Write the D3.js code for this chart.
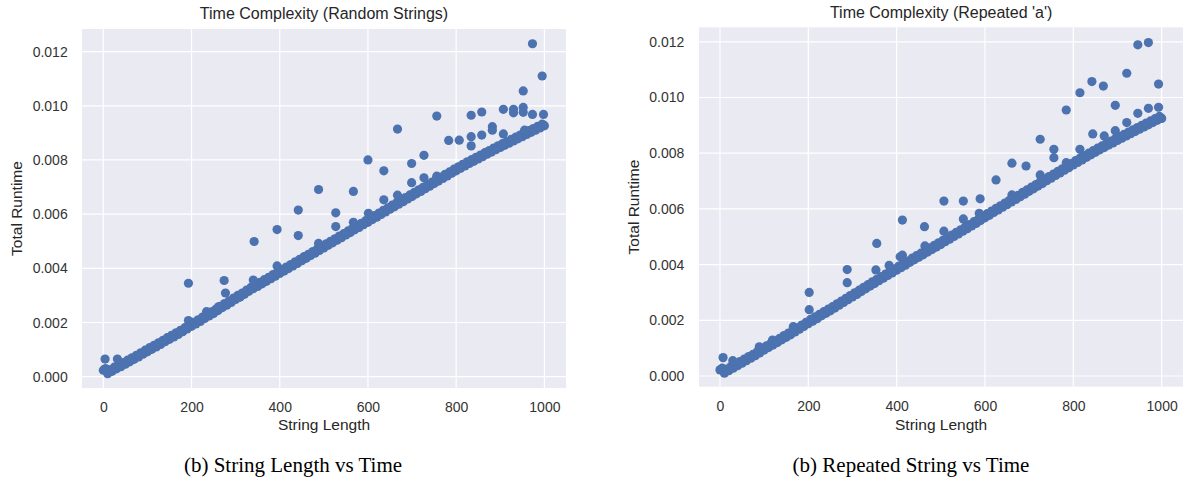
<!DOCTYPE html>
<html>
<head>
<meta charset="utf-8">
<script src="https://cdn.jsdelivr.net/npm/d3@7"></script>
<style>
  body { margin: 0; background: #fff; }
  svg { display: block; }
  .tick text { font-family: "Liberation Sans", Arial, sans-serif; font-size: 14px; fill: #333; }
</style>
</head>
<body>
<svg id="chart" width="1183" height="481"></svg>
<script>
// string lengths of the dense band: lower edge every 10 chars, upper edge offset by 5
const bandLengths = d3.range(0, 1001, 10);
const upperLengths = d3.range(5, 1000, 10);

// runtime of the dense band, in milliseconds
const randomBandMs = [
  0.24, 0.11, 0.20, 0.29, 0.37, 0.46, 0.55, 0.64, 0.73, 0.83,
  0.92, 1.01, 1.10, 1.19, 1.29, 1.38, 1.47, 1.56, 1.66, 1.76,
  1.86, 1.95, 2.04, 2.15, 2.24, 2.33, 2.44, 2.55, 2.64, 2.74,
  2.85, 2.94, 3.04, 3.15, 3.25, 3.33, 3.43, 3.52, 3.62, 3.71,
  3.81, 3.90, 3.99, 4.09, 4.18, 4.28, 4.37, 4.47, 4.56, 4.66,
  4.75, 4.85, 4.94, 5.04, 5.13, 5.23, 5.32, 5.42, 5.51, 5.61,
  5.70, 5.80, 5.89, 5.99, 6.08, 6.18, 6.27, 6.37, 6.46, 6.56,
  6.65, 6.75, 6.84, 6.94, 7.03, 7.13, 7.22, 7.32, 7.41, 7.51,
  7.60, 7.69, 7.78, 7.87, 7.95, 8.04, 8.12, 8.21, 8.29, 8.38,
  8.46, 8.54, 8.62, 8.70, 8.78, 8.86, 8.94, 9.02, 9.10, 9.18, 9.26
];
const randomUpperMs = [
  0.30, 0.25, 0.35, 0.43, 0.52, 0.61, 0.70, 0.79, 0.88, 0.98,
  1.07, 1.16, 1.25, 1.34, 1.44, 1.53, 1.62, 1.71, 1.81, 1.91,
  2.01, 2.10, 2.20, 2.30, 2.39, 2.49, 2.60, 2.70, 2.79, 2.90,
  3.00, 3.09, 3.20, 3.30, 3.39, 3.48, 3.58, 3.67, 3.77, 3.86,
  3.96, 4.05, 4.14, 4.24, 4.33, 4.43, 4.52, 4.62, 4.71, 4.81,
  4.90, 5.00, 5.09, 5.19, 5.28, 5.38, 5.47, 5.57, 5.66, 5.76,
  5.85, 5.95, 6.04, 6.14, 6.23, 6.33, 6.42, 6.52, 6.61, 6.71,
  6.80, 6.90, 6.99, 7.09, 7.18, 7.28, 7.37, 7.47, 7.56, 7.66,
  7.75, 7.84, 7.93, 8.01, 8.10, 8.18, 8.27, 8.35, 8.44, 8.52,
  8.60, 8.68, 8.76, 8.84, 8.92, 9.00, 9.08, 9.16, 9.24, 9.32
];
const repeatedBandMs = [
  0.22, 0.10, 0.19, 0.28, 0.37, 0.46, 0.55, 0.64, 0.73, 0.83,
  0.93, 1.02, 1.11, 1.20, 1.30, 1.39, 1.48, 1.58, 1.68, 1.78,
  1.88, 1.97, 2.06, 2.16, 2.25, 2.34, 2.44, 2.54, 2.64, 2.74,
  2.84, 2.93, 3.03, 3.13, 3.23, 3.32, 3.42, 3.51, 3.61, 3.70,
  3.80, 3.89, 3.98, 4.08, 4.17, 4.26, 4.35, 4.45, 4.54, 4.63,
  4.72, 4.82, 4.91, 5.01, 5.10, 5.20, 5.29, 5.39, 5.48, 5.58,
  5.68, 5.77, 5.87, 5.96, 6.06, 6.15, 6.25, 6.34, 6.44, 6.53,
  6.63, 6.72, 6.82, 6.91, 7.01, 7.10, 7.20, 7.29, 7.39, 7.48,
  7.58, 7.67, 7.76, 7.85, 7.94, 8.03, 8.12, 8.20, 8.29, 8.37,
  8.46, 8.54, 8.62, 8.70, 8.78, 8.86, 8.94, 9.02, 9.10, 9.18, 9.25
];
const repeatedUpperMs = [
  0.28, 0.25, 0.34, 0.43, 0.52, 0.61, 0.70, 0.78, 0.88, 0.98,
  1.08, 1.17, 1.26, 1.35, 1.45, 1.54, 1.63, 1.73, 1.83, 1.93,
  2.03, 2.12, 2.21, 2.31, 2.40, 2.49, 2.59, 2.69, 2.79, 2.89,
  2.99, 3.08, 3.18, 3.28, 3.38, 3.47, 3.57, 3.66, 3.76, 3.85,
  3.95, 4.04, 4.13, 4.23, 4.32, 4.41, 4.50, 4.60, 4.69, 4.78,
  4.87, 4.97, 5.06, 5.16, 5.25, 5.35, 5.44, 5.54, 5.63, 5.73,
  5.83, 5.92, 6.02, 6.11, 6.21, 6.30, 6.40, 6.49, 6.59, 6.68,
  6.78, 6.87, 6.97, 7.06, 7.16, 7.25, 7.35, 7.44, 7.54, 7.63,
  7.73, 7.82, 7.91, 8.00, 8.09, 8.18, 8.26, 8.35, 8.43, 8.52,
  8.60, 8.68, 8.76, 8.84, 8.92, 9.00, 9.08, 9.16, 9.24, 9.32
];

// scattered points above the band
const randomExtraX = [4, 32, 193, 193, 234, 261, 274, 277, 310, 340, 342, 394, 394, 442, 442,
  488, 488, 527, 527, 567, 567, 600, 601, 636, 636, 667, 667, 699, 699, 727, 727, 756, 756,
  783, 807, 834, 834, 834, 858, 858, 882, 882, 907, 907, 930, 930, 952, 952, 952, 955,
  973, 973, 995, 998, 998];
const randomExtraMs = [0.65, 0.65, 3.45, 2.07, 2.40, 2.58, 3.55, 3.09, 2.95, 3.57, 4.99, 5.43, 4.09, 6.15, 5.21,
  6.91, 4.92, 6.05, 5.54, 6.84, 5.70, 8.00, 6.03, 7.60, 6.53, 9.14, 6.70, 7.87, 7.16, 8.17, 7.34, 9.62, 7.40,
  8.72, 8.73, 9.65, 8.86, 8.52, 9.77, 8.92, 9.23, 9.10, 9.87, 8.96, 9.87, 9.74, 10.55, 9.94, 9.76, 9.10,
  12.29, 9.68, 11.10, 9.68, 9.29];

const repeatedExtraX = [7, 29, 89, 119, 166, 202, 202, 288, 288, 353, 355, 383, 408, 413, 413,
  463, 464, 507, 507, 551, 551, 587, 589, 625, 661, 661, 693, 725, 725, 756, 756, 784, 784,
  815, 815, 842, 844, 868, 870, 895, 895, 921, 921, 946, 946, 970, 970, 993, 993];
const repeatedExtraMs = [0.66, 0.55, 1.05, 1.29, 1.77, 3.00, 2.38, 3.82, 3.35, 3.81, 4.76, 3.97, 4.28, 5.60, 4.34,
  5.36, 4.67, 6.28, 5.20, 6.28, 5.64, 5.84, 6.36, 7.04, 7.64, 6.50, 7.54, 8.50, 7.22, 8.14, 7.84, 9.55, 7.66,
  10.17, 8.14, 10.57, 8.69, 10.41, 8.62, 9.72, 8.81, 10.87, 9.10, 11.89, 9.43, 11.97, 9.61, 10.48, 9.65];

const xTicks = [0, 200, 400, 600, 800, 1000];
const yTicks = [0, 0.002, 0.004, 0.006, 0.008, 0.010, 0.012];

const panels = [
  {
    title: 'Time Complexity (Random Strings)',
    caption: '(b) String Length vs Time',
    band: randomBandMs, upper: randomUpperMs, extraX: randomExtraX, extraMs: randomExtraMs,
    left: 82, right: 566, top: 29, bottom: 388,
    xDomain: [-48.3, 1049], yDomain: [-0.000417, 0.012834],
    titleY: 18.5, yLabelX: 21.5, captionX: 293, tickPad: 14.3
  },
  {
    title: "Time Complexity (Repeated 'a')",
    caption: '(b) Repeated String vs Time',
    band: repeatedBandMs, upper: repeatedUpperMs, extraX: repeatedExtraX, extraMs: repeatedExtraMs,
    left: 699, right: 1183.3, top: 27.3, bottom: 386.7,
    xDomain: [-47.5, 1049], yDomain: [-0.000384, 0.01252],
    titleY: 17.5, yLabelX: 638.5, captionX: 911, tickPad: 14.7
  }
];

const svg = d3.select('#chart');
const font = '"Liberation Sans", Arial, sans-serif';

panels.forEach(p => {
  const x = d3.scaleLinear().domain(p.xDomain).range([p.left, p.right]),
    y = d3.scaleLinear().domain(p.yDomain).range([p.bottom, p.top]);
  const g = svg.append('g');

  g.append('rect')
    .attr('x', p.left).attr('y', p.top)
    .attr('width', p.right - p.left).attr('height', p.bottom - p.top)
    .attr('fill', '#EAEAF2');

  // grid
  g.selectAll('.vgrid').data(xTicks).join('line')
    .attr('x1', d => x(d)).attr('x2', d => x(d))
    .attr('y1', p.top).attr('y2', p.bottom)
    .attr('stroke', '#fff').attr('stroke-width', 1.2);
  g.selectAll('.hgrid').data(yTicks).join('line')
    .attr('y1', d => y(d)).attr('y2', d => y(d))
    .attr('x1', p.left).attr('x2', p.right)
    .attr('stroke', '#fff').attr('stroke-width', 1.2);

  // axes (labels only)
  const xa = g.append('g')
    .attr('transform', `translate(0,${p.bottom})`)
    .call(d3.axisBottom(x).tickValues(xTicks).tickSize(0).tickPadding(14).tickFormat(d3.format('d')));
  xa.select('.domain').remove();

  const ya = g.append('g')
    .attr('transform', `translate(${p.left},0)`)
    .call(d3.axisLeft(y).tickValues(yTicks).tickSize(0).tickPadding(p.tickPad).tickFormat(d3.format('.3f')));
  ya.select('.domain').remove();

  // points
  const pts = p.band.map((v, i) => ({ len: bandLengths[i], t: v / 1000 }))
    .concat(p.upper.map((v, i) => ({ len: upperLengths[i], t: v / 1000 })))
    .concat(p.extraX.map((v, i) => ({ len: v, t: p.extraMs[i] / 1000 })));
  g.selectAll('.pt').data(pts).join('circle')
    .attr('cx', d => x(d.len))
    .attr('cy', d => y(d.t))
    .attr('r', 4.6)
    .attr('fill', '#4C72B0');

  // texts
  g.append('text')
    .attr('x', (p.left + p.right) / 2).attr('y', p.titleY)
    .attr('text-anchor', 'middle')
    .style('font-family', font).style('font-size', '16px').style('fill', '#262626')
    .text(p.title);
  g.append('text')
    .attr('x', (p.left + p.right) / 2).attr('y', 430)
    .attr('text-anchor', 'middle')
    .style('font-family', font).style('font-size', '15.5px').style('fill', '#262626')
    .text('String Length');
  g.append('text')
    .attr('transform', `translate(${p.yLabelX},${(p.top + p.bottom) / 2}) rotate(-90)`)
    .attr('text-anchor', 'middle')
    .style('font-family', font).style('font-size', '15.5px').style('fill', '#262626')
    .text('Total Runtime');
  g.append('text')
    .attr('x', p.captionX).attr('y', 471.5)
    .attr('text-anchor', 'middle')
    .style('font-family', '"Liberation Serif", "Times New Roman", serif')
    .style('font-size', '21px').style('fill', '#000')
    .text(p.caption);
});
</script>
</body>
</html>
